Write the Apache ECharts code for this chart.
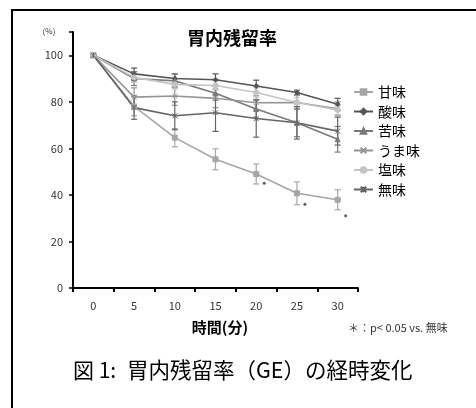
<!DOCTYPE html>
<html><head><meta charset="utf-8">
<script src="https://cdn.jsdelivr.net/npm/echarts@6/dist/echarts.min.js"></script>
<style>html,body{margin:0;padding:0;background:#fff;}#c{width:476px;height:408px;}</style>
</head><body><div id="c"></div>
<script>
const categories = ['0','5','10','15','20','25','30'];
const yTicks = [0,20,40,60,80,100];
const seriesNames = ['甘味','酸味','苦味','うま味','塩味','無味'];
const sweet    = [100, 78, 64.6, 55.3, 49.0, 40.7, 37.9];
const sweetErr = [0, 4, 3.9, 4.5, 4.3, 4.9, 4.3];
const sour     = [100, 92, 90, 89.5, 86.8, 84, 79];
const sourErr  = [0, 2.5, 2, 2.5, 2.5, 1, 2.5];
const bitter   = [100, 90, 89, 83.7, 76.9, 71, 63.9];
const bitterErr= [0, 3, 3, 3, 4, 6, 5.5];
const umami    = [100, 82, 82.5, 81.5, 79.6, 79.7, 77];
const umamiErr = [0, 4, 4, 4, 3, 3, 3];
const salty    = [100, 90.5, 87.5, 87, 84, 79.7, 76.5];
const saltyErr = [0, 2, 2, 2, 2, 2, 2];
const plain    = [100, 77.5, 74, 75.3, 72.8, 71, 67.4];
const plainErr = [0, 5, 6, 8, 8, 7, 6];
const sigCats = ['20','25','30'];
const sigVals = [45, 36, 31];

const values = [sweet, sour, bitter, umami, salty, plain];
const errs = [sweetErr, sourErr, bitterErr, umamiErr, saltyErr, plainErr];
const colors = ['#a6a6a6','#555555','#7a7a7a','#959595','#c4c4c4','#646464'];
const symbols = ['rect','diamond','triangle','path://M0,0L10,10M10,0L0,10','circle','path://M0,0L10,10M10,0L0,10M5,0L5,10'];
const FONT = '"Noto Sans CJK JP", "Noto Sans", sans-serif';

const chart = echarts.init(document.getElementById('c'));
const series = [];
values.forEach((v, i) => {
  series.push({
    name: seriesNames[i], type: 'line', data: v,
    symbol: symbols[i], symbolSize: 5, showAllSymbol: true,
    lineStyle: { color: colors[i], width: 1.6 },
    itemStyle: { color: colors[i], borderColor: colors[i], borderWidth: 1 },
    z: 3
  });
  series.push({
    type: 'custom', name: seriesNames[i] + '_err',
    data: v.map((y, j) => [j, y - errs[i][j], y + errs[i][j]]),
    renderItem: function (params, api) {
      const lo = api.coord([api.value(0), api.value(1)]);
      const hi = api.coord([api.value(0), api.value(2)]);
      const w = 3;
      return { type: 'group', children: [
        { type: 'line', shape: { x1: lo[0], y1: lo[1], x2: hi[0], y2: hi[1] }, style: { stroke: colors[i], lineWidth: 1.2 } },
        { type: 'line', shape: { x1: lo[0]-w, y1: lo[1], x2: lo[0]+w, y2: lo[1] }, style: { stroke: colors[i], lineWidth: 1.2 } },
        { type: 'line', shape: { x1: hi[0]-w, y1: hi[1], x2: hi[0]+w, y2: hi[1] }, style: { stroke: colors[i], lineWidth: 1.2 } }
      ]};
    },
    encode: { x: 0, y: [1, 2] }, z: 2, silent: true
  });
});
series.push({
  type: 'scatter', name: 'sig', data: sigCats.map((c, k) => [c, sigVals[k]]),
  symbol: 'circle', symbolSize: 3, symbolOffset: [8, 0],
  itemStyle: { color: '#333' }, z: 4
});

chart.setOption({
  animation: false,
  textStyle: { fontFamily: FONT },
  title: {
    text: '胃内残留率', left: 227, top: 24, textAlign: 'center',
    textStyle: { fontSize: 18, fontWeight: 'bold', color: '#000', fontFamily: FONT }
  },
  legend: {
    data: seriesNames, orient: 'vertical', left: 348, top: 80,
    itemWidth: 19, itemHeight: 7, itemGap: 5.5,
    textStyle: { fontSize: 14, lineHeight: 14, color: '#000', fontFamily: FONT }
  },
  grid: { left: 73, right: 118, top: 32, bottom: 120, containLabel: false },
  xAxis: {
    type: 'category', data: categories, boundaryGap: true,
    axisLine: { lineStyle: { color: '#000', width: 2 } },
    axisTick: { show: true, length: 4, alignWithLabel: false, lineStyle: { color: '#000', width: 2 } },
    axisLabel: { fontSize: 11, color: '#333', margin: 12, fontFamily: FONT },
    name: '時間(分)', nameLocation: 'middle', nameGap: 32,
    nameTextStyle: { fontSize: 15, fontWeight: 'bold', color: '#000', padding: [0,0,0,9], fontFamily: FONT }
  },
  yAxis: {
    type: 'value', min: 0, max: 110, interval: 20,
    splitLine: { show: false },
    axisLine: { show: true, lineStyle: { color: '#000', width: 2 } },
    axisTick: { show: true, length: 4, lineStyle: { color: '#000', width: 1.5 } },
    axisLabel: {
      fontSize: 11, color: '#333', margin: 10, fontFamily: FONT,
      formatter: v => (yTicks.indexOf(v) >= 0 ? String(v) : '')
    }
  },
  graphic: [
    { type: 'rect', shape: { x: 12, y: 10, width: 480, height: 410 }, style: { fill: 'none', stroke: '#000', lineWidth: 2 }, silent: true },
    { type: 'text', x: 49, y: 31, style: { text: '(%)', fill: '#333', align: 'center', verticalAlign: 'middle', font: '8px ' + FONT } },
    { type: 'text', x: 348, y: 328, style: { text: '＊：p< 0.05 vs. 無味', fill: '#333', align: 'left', verticalAlign: 'middle', font: '11px ' + FONT } },
    { type: 'text', x: 73, y: 370, style: { text: '図 1:', fill: '#000', align: 'left', verticalAlign: 'middle', font: '21px ' + FONT } },
    { type: 'text', x: 127, y: 370, style: { text: '胃内残留率（GE）の経時変化', fill: '#000', align: 'left', verticalAlign: 'middle', font: '21.5px ' + FONT } }
  ],
  series: series
});
</script></body></html>
